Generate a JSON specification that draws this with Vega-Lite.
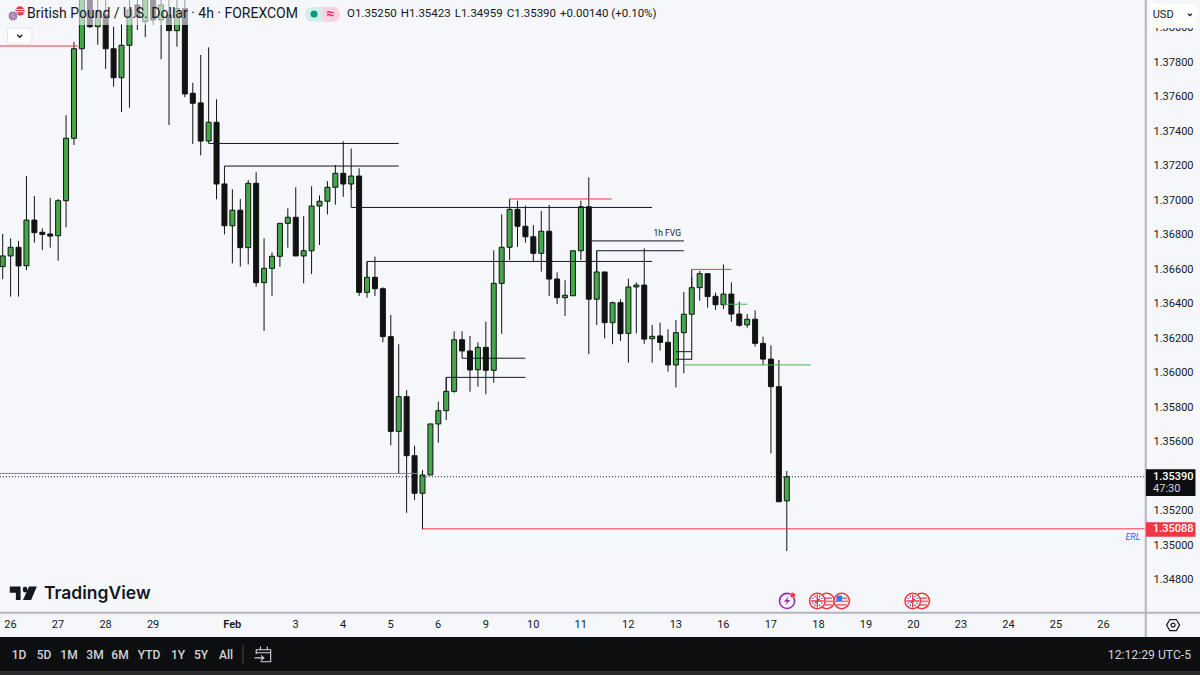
{"$schema":"https://vega.github.io/schema/vega-lite/v6.json","width":1200,"height":675,"padding":0,"autosize":{"type":"none"},"background":"#f5f7fb","config":{"view":{"stroke":null},"text":{"font":"Roboto"}},
"datasets":{
"candles":[
{"i":0,"open":1.36608,"close":1.3667,"high":1.36797,"low":1.36536},
{"i":1,"open":1.3667,"close":1.3672,"high":1.36772,"low":1.36434},
{"i":2,"open":1.3672,"close":1.36612,"high":1.36757,"low":1.36434},
{"i":3,"open":1.36613,"close":1.36878,"high":1.37133,"low":1.36588},
{"i":4,"open":1.36878,"close":1.36805,"high":1.37017,"low":1.36747},
{"i":5,"open":1.36807,"close":1.36795,"high":1.3683,"low":1.36704},
{"i":6,"open":1.36797,"close":1.36785,"high":1.37006,"low":1.36718},
{"i":7,"open":1.36787,"close":1.3699,"high":1.37,"low":1.36642},
{"i":8,"open":1.3699,"close":1.37352,"high":1.37485,"low":1.36836},
{"i":9,"open":1.37352,"close":1.37871,"high":1.3791,"low":1.37313},
{"i":10,"open":1.37871,"close":1.38183,"high":1.3827,"low":1.37748},
{"i":11,"open":1.38183,"close":1.37999,"high":1.38241,"low":1.37991},
{"i":12,"open":1.37999,"close":1.38084,"high":1.38154,"low":1.37894},
{"i":13,"open":1.38067,"close":1.37871,"high":1.38171,"low":1.37754},
{"i":14,"open":1.37871,"close":1.37703,"high":1.37999,"low":1.37651},
{"i":15,"open":1.37703,"close":1.37891,"high":1.38014,"low":1.37504},
{"i":16,"open":1.37891,"close":1.38096,"high":1.38154,"low":1.37529},
{"i":17,"open":1.38125,"close":1.38055,"high":1.38183,"low":1.3798},
{"i":18,"open":1.38028,"close":1.38183,"high":1.38223,"low":1.37939},
{"i":19,"open":1.38183,"close":1.38038,"high":1.38223,"low":1.38009},
{"i":20,"open":1.38038,"close":1.38125,"high":1.38183,"low":1.3781},
{"i":21,"open":1.38067,"close":1.37976,"high":1.38154,"low":1.37429},
{"i":22,"open":1.37976,"close":1.38105,"high":1.38171,"low":1.37883},
{"i":23,"open":1.38105,"close":1.37609,"high":1.38154,"low":1.3759},
{"i":24,"open":1.37613,"close":1.37555,"high":1.37674,"low":1.37319},
{"i":25,"open":1.37557,"close":1.37336,"high":1.37835,"low":1.37253},
{"i":26,"open":1.37336,"close":1.37445,"high":1.37879,"low":1.37323},
{"i":27,"open":1.37445,"close":1.37087,"high":1.37578,"low":1.36998},
{"i":28,"open":1.37087,"close":1.36845,"high":1.37087,"low":1.36795},
{"i":29,"open":1.36845,"close":1.36935,"high":1.37056,"low":1.36627},
{"i":30,"open":1.36935,"close":1.36718,"high":1.37,"low":1.36608},
{"i":31,"open":1.36718,"close":1.37091,"high":1.3711,"low":1.36621},
{"i":32,"open":1.37091,"close":1.36515,"high":1.37155,"low":1.36492},
{"i":33,"open":1.36515,"close":1.36598,"high":1.36772,"low":1.36235},
{"i":34,"open":1.36598,"close":1.36668,"high":1.36691,"low":1.36439},
{"i":35,"open":1.36668,"close":1.36859,"high":1.36859,"low":1.36608},
{"i":36,"open":1.36859,"close":1.36894,"high":1.36946,"low":1.36718},
{"i":37,"open":1.36894,"close":1.3667,"high":1.37068,"low":1.3667},
{"i":38,"open":1.3667,"close":1.367,"high":1.36901,"low":1.36511},
{"i":39,"open":1.367,"close":1.36959,"high":1.37074,"low":1.36565},
{"i":40,"open":1.36959,"close":1.36987,"high":1.37021,"low":1.36733},
{"i":41,"open":1.36987,"close":1.37068,"high":1.37104,"low":1.36911},
{"i":42,"open":1.37068,"close":1.37149,"high":1.37197,"low":1.36967},
{"i":43,"open":1.37149,"close":1.37087,"high":1.37334,"low":1.37013},
{"i":44,"open":1.37087,"close":1.37133,"high":1.37292,"low":1.37052},
{"i":45,"open":1.37133,"close":1.36459,"high":1.37178,"low":1.36438},
{"i":46,"open":1.36459,"close":1.36546,"high":1.36637,"low":1.36428},
{"i":47,"open":1.36546,"close":1.3648,"high":1.36666,"low":1.36438},
{"i":48,"open":1.3648,"close":1.36202,"high":1.36488,"low":1.36169},
{"i":49,"open":1.36202,"close":1.35653,"high":1.36328,"low":1.35572},
{"i":50,"open":1.35653,"close":1.35854,"high":1.36158,"low":1.3541},
{"i":51,"open":1.35854,"close":1.35512,"high":1.35893,"low":1.35181},
{"i":52,"open":1.35512,"close":1.35294,"high":1.3557,"low":1.35255},
{"i":53,"open":1.35294,"close":1.354,"high":1.35429,"low":1.35085},
{"i":54,"open":1.354,"close":1.35696,"high":1.35696,"low":1.354},
{"i":55,"open":1.35696,"close":1.35773,"high":1.35825,"low":1.35587},
{"i":56,"open":1.35773,"close":1.35885,"high":1.35968,"low":1.35719},
{"i":57,"open":1.35885,"close":1.36184,"high":1.36233,"low":1.35877},
{"i":58,"open":1.36184,"close":1.36119,"high":1.36233,"low":1.36077},
{"i":59,"open":1.36119,"close":1.36009,"high":1.36206,"low":1.35883},
{"i":60,"open":1.3601,"close":1.3614,"high":1.36169,"low":1.35912},
{"i":61,"open":1.3614,"close":1.36007,"high":1.36289,"low":1.35868},
{"i":62,"open":1.36007,"close":1.36511,"high":1.36703,"low":1.35935},
{"i":63,"open":1.36511,"close":1.3672,"high":1.36911,"low":1.36219},
{"i":64,"open":1.3672,"close":1.3694,"high":1.37,"low":1.36646},
{"i":65,"open":1.3694,"close":1.36842,"high":1.3699,"low":1.36723},
{"i":66,"open":1.36842,"close":1.36781,"high":1.36961,"low":1.36747},
{"i":67,"open":1.36781,"close":1.36685,"high":1.36849,"low":1.36637},
{"i":68,"open":1.36685,"close":1.36813,"high":1.3693,"low":1.36579},
{"i":69,"open":1.36813,"close":1.36536,"high":1.36965,"low":1.36438},
{"i":70,"open":1.36536,"close":1.36428,"high":1.36575,"low":1.36391},
{"i":71,"open":1.36428,"close":1.36442,"high":1.36529,"low":1.36322},
{"i":72,"open":1.36439,"close":1.367,"high":1.367,"low":1.36439},
{"i":73,"open":1.367,"close":1.36955,"high":1.3699,"low":1.36646},
{"i":74,"open":1.36955,"close":1.36419,"high":1.37126,"low":1.36101},
{"i":75,"open":1.36419,"close":1.36577,"high":1.367,"low":1.3627},
{"i":76,"open":1.36577,"close":1.36283,"high":1.36577,"low":1.36192},
{"i":77,"open":1.36283,"close":1.36399,"high":1.36405,"low":1.36158},
{"i":78,"open":1.36399,"close":1.36219,"high":1.36419,"low":1.36177},
{"i":79,"open":1.36221,"close":1.3649,"high":1.36538,"low":1.36051},
{"i":80,"open":1.3649,"close":1.36501,"high":1.36517,"low":1.36221},
{"i":81,"open":1.36501,"close":1.36188,"high":1.36714,"low":1.36161},
{"i":82,"open":1.3619,"close":1.36204,"high":1.3627,"low":1.36051},
{"i":83,"open":1.36206,"close":1.36169,"high":1.36283,"low":1.36121},
{"i":84,"open":1.36169,"close":1.36038,"high":1.36245,"low":1.35999},
{"i":85,"open":1.36038,"close":1.36225,"high":1.36299,"low":1.35908},
{"i":86,"open":1.36225,"close":1.36332,"high":1.36461,"low":1.3599},
{"i":87,"open":1.36332,"close":1.36486,"high":1.36548,"low":1.36067},
{"i":88,"open":1.36486,"close":1.36567,"high":1.36583,"low":1.3641},
{"i":89,"open":1.36567,"close":1.36434,"high":1.36567,"low":1.3637},
{"i":90,"open":1.36436,"close":1.36387,"high":1.36457,"low":1.36357},
{"i":91,"open":1.36387,"close":1.36449,"high":1.36621,"low":1.36362},
{"i":92,"open":1.36449,"close":1.36333,"high":1.36517,"low":1.36289},
{"i":93,"open":1.36333,"close":1.36268,"high":1.36405,"low":1.3626},
{"i":94,"open":1.3627,"close":1.36303,"high":1.36333,"low":1.36254},
{"i":95,"open":1.36303,"close":1.36163,"high":1.36355,"low":1.36144},
{"i":96,"open":1.36163,"close":1.36072,"high":1.36202,"low":1.36038},
{"i":97,"open":1.36072,"close":1.35912,"high":1.36151,"low":1.35526},
{"i":98,"open":1.35912,"close":1.35245,"high":1.36067,"low":1.35245},
{"i":99,"open":1.3525,"close":1.3539,"high":1.35423,"low":1.34959}],
"drawings":[
{"i":-0.35,"i2":9.5,"p":1.37887,"p2":1.37887,"kind":"red"},
{"i":26,"i2":50,"p":1.37322,"p2":1.37322,"kind":"line"},
{"i":28,"i2":50,"p":1.37191,"p2":1.37191,"kind":"line"},
{"i":28,"i2":28,"p":1.37191,"p2":1.37087,"kind":"line"},
{"i":44,"i2":82,"p":1.36951,"p2":1.36951,"kind":"line"},
{"i":44,"i2":44,"p":1.37087,"p2":1.36951,"kind":"line"},
{"i":64,"i2":76.9,"p":1.37,"p2":1.37,"kind":"red"},
{"i":46,"i2":82,"p":1.36638,"p2":1.36638,"kind":"line"},
{"i":46,"i2":46,"p":1.36638,"p2":1.36546,"kind":"line"},
{"i":74.4,"i2":86,"p":1.36757,"p2":1.36757,"kind":"line"},
{"i":75,"i2":86,"p":1.367,"p2":1.367,"kind":"line"},
{"i":75,"i2":75,"p":1.367,"p2":1.36577,"kind":"line"},
{"i":58,"i2":66,"p":1.36077,"p2":1.36077,"kind":"line"},
{"i":56,"i2":66,"p":1.35966,"p2":1.35966,"kind":"line"},
{"i":56,"i2":56,"p":1.35966,"p2":1.35885,"kind":"line"},
{"i":-0.35,"i2":52.5,"p":1.35409,"p2":1.35409,"kind":"green"},
{"i":53,"i2":144.2,"p":1.35088,"p2":1.35088,"kind":"red"},
{"i":86,"i2":102,"p":1.36038,"p2":1.36038,"kind":"green"},
{"i":87,"i2":92,"p":1.36592,"p2":1.36592,"kind":"red"},
{"i":87,"i2":87,"p":1.36592,"p2":1.36486,"kind":"line"},
{"i":91,"i2":94,"p":1.3639,"p2":1.3639,"kind":"green"},
{"i":85,"i2":87,"p":1.36115,"p2":1.36115,"kind":"line"},
{"i":85,"i2":87,"p":1.36071,"p2":1.36071,"kind":"line"}],
"usFlags":[{"i":104.04,"p":1.3467},{"i":105.93,"p":1.3467},{"i":116.04,"p":1.3467}],
"ukFlags":[{"i":102.85,"p":1.3467},{"i":114.9,"p":1.3467}],
"ohlc":[{"i":43.47,"p":1.38072,"label":"O1.35250"},{"i":50.25,"p":1.38072,"label":"H1.35423"},{"i":57.07,"p":1.38072,"label":"L1.34959"},{"i":63.64,"p":1.38072,"label":"C1.35390"},{"i":70.37,"p":1.38072,"label":"+0.00140 (+0.10%)"}],
"toolbar":[{"i":2.06,"p":1.343565,"label":"1D"},{"i":5.21,"p":1.343565,"label":"5D"},{"i":8.37,"p":1.343565,"label":"1M"},{"i":11.65,"p":1.343565,"label":"3M"},{"i":14.81,"p":1.343565,"label":"6M"},{"i":18.47,"p":1.343565,"label":"YTD"},{"i":22.13,"p":1.343565,"label":"1Y"},{"i":25.04,"p":1.343565,"label":"5Y"},{"i":28.2,"p":1.343565,"label":"All"}]
},
"layer":[
{"data":{"name":"candles"},"mark":{"type":"rule","stroke":"#121212","strokeWidth":1},
"encoding":{"x":{"field":"i","type":"quantitative","title":null,"scale":{"domain":[-0.3409,151.17],"nice":false,"zero":false,"padding":0},
"axis":{"orient":"bottom","offset":-50.5,"grid":false,"domain":false,"ticks":false,"title":null,"labelPadding":0,"labelOffset":-0.6,"labelBaseline":"middle","labelFont":"Roboto","labelFontSize":11,"labelColor":"#131722","labelOverlap":false,"labelFlush":false,"labelFontWeight":{"expr":"datum.value==29?600:400"},
"values":[1,7,13,19,29,37,43,49,55,61,67,73,79,85,91,97,103,109,115,121,127,133,139],
"labelExpr":"{'1':'26','7':'27','13':'28','19':'29','29':'Feb','37':'3','43':'4','49':'5','55':'6','61':'9','67':'10','73':'11','79':'12','85':'13','91':'16','97':'17','103':'18','109':'19','115':'20','121':'23','127':'24','133':'25','139':'26'}[''+datum.value]"}},
"y":{"field":"high","type":"quantitative","title":null,"scale":{"domain":[1.3424058,1.3815362],"nice":false,"zero":false},
"axis":{"orient":"right","offset":-47,"grid":false,"domain":false,"ticks":false,"title":null,"labelPadding":0,"labelOffset":1.4,"labelAlign":"left","labelFont":"Roboto","labelFontSize":11,"labelColor":"#131722","labelOverlap":false,"format":".5f",
"values":[1.348,1.35,1.352,1.354,1.356,1.358,1.36,1.362,1.364,1.366,1.368,1.37,1.372,1.374,1.376,1.378,1.38]}},
"y2":{"field":"low"}}},
{"data":{"name":"candles"},"mark":{"type":"bar","orient":"vertical","size":5,"stroke":"#121212","strokeWidth":1},
"encoding":{"x":{"field":"i","type":"quantitative"},"y":{"field":"open","type":"quantitative"},"y2":{"field":"close"},
"color":{"condition":{"test":"datum.close >= datum.open","value":"#43a948"},"value":"#121212"}}},
{"data":{"name":"drawings"},"mark":{"type":"rule","strokeWidth":1},
"encoding":{"x":{"field":"i","type":"quantitative"},"x2":{"field":"i2"},"y":{"field":"p","type":"quantitative"},"y2":{"field":"p2"},
"color":{"field":"kind","type":"nominal","legend":null,"scale":{"domain":["line","red","green"],"range":["#131722","#f23645","#4caf50"]}}}},
{"data":{"values":[{"i":-0.35,"i2":144.2,"p":1.3539}]},"mark":{"type":"rule","stroke":"#131722","strokeWidth":1,"strokeDash":[1,2]},
"encoding":{"x":{"field":"i","type":"quantitative"},"x2":{"field":"i2"},"y":{"field":"p","type":"quantitative"}}},
{"data":{"values":[{"i":83.9,"p":1.36803,"label":"1h FVG"}]},"mark":{"type":"text","fontSize":8.5,"color":"#131722","align":"center","baseline":"middle"},
"encoding":{"x":{"field":"i","type":"quantitative"},"y":{"field":"p","type":"quantitative"},"text":{"field":"label"}}},
{"data":{"values":[{"i":142.7,"p":1.35042,"label":"ERL"}]},"mark":{"type":"text","fontSize":9,"fontStyle":"italic","color":"#2962ff","align":"center","baseline":"middle"},
"encoding":{"x":{"field":"i","type":"quantitative"},"y":{"field":"p","type":"quantitative"},"text":{"field":"label"}}},
{"data":{"values":[{"i":2.4,"i2":82.3,"p":1.3817,"p2":1.38009}]},"mark":{"type":"rect","color":"#f5f7fb","opacity":0.6},
"encoding":{"x":{"field":"i","type":"quantitative"},"x2":{"field":"i2"},"y":{"field":"p","type":"quantitative"},"y2":{"field":"p2"}}},
{"data":{"values":[{"i":-0.35,"i2":151.2,"p":1.34461,"p2":1.34264}]},"mark":{"type":"rect","color":"#0d0e10"},
"encoding":{"x":{"field":"i","type":"quantitative"},"x2":{"field":"i2"},"y":{"field":"p","type":"quantitative"},"y2":{"field":"p2"}}},
{"data":{"values":[{"i":-0.35,"i2":151.2,"p":1.34264,"p2":1.3424}]},"mark":{"type":"rect","color":"#2a2b2d"},
"encoding":{"x":{"field":"i","type":"quantitative"},"x2":{"field":"i2"},"y":{"field":"p","type":"quantitative"},"y2":{"field":"p2"}}},
{"data":{"values":[{"i":144.32,"p":1.3817,"p2":1.34461}]},"mark":{"type":"rule","stroke":"#b2b5be","strokeWidth":2},
"encoding":{"x":{"field":"i","type":"quantitative"},"y":{"field":"p","type":"quantitative"},"y2":{"field":"p2"}}},
{"data":{"values":[{"i":-0.35,"i2":151.2,"p":1.34602}]},"mark":{"type":"rule","stroke":"#b2b5be","strokeWidth":2},
"encoding":{"x":{"field":"i","type":"quantitative"},"x2":{"field":"i2"},"y":{"field":"p","type":"quantitative"}}},
{"data":{"values":[{"i":144.35,"i2":150.6,"p":1.35433,"p2":1.35278}]},"mark":{"type":"rect","color":"#0d0e10"},
"encoding":{"x":{"field":"i","type":"quantitative"},"x2":{"field":"i2"},"y":{"field":"p","type":"quantitative"},"y2":{"field":"p2"}}},
{"data":{"values":[{"i":144.35,"i2":150.6,"p":1.35126,"p2":1.35042}]},"mark":{"type":"rect","color":"#f23645"},
"encoding":{"x":{"field":"i","type":"quantitative"},"x2":{"field":"i2"},"y":{"field":"p","type":"quantitative"},"y2":{"field":"p2"}}},
{"data":{"values":[{"i":145.24,"p":1.3539,"label":"1.35390"},{"i":145.24,"p":1.35088,"label":"1.35088"}]},"mark":{"type":"text","fontSize":11,"fontWeight":500,"color":"#ffffff","align":"left","baseline":"middle"},
"encoding":{"x":{"field":"i","type":"quantitative"},"y":{"field":"p","type":"quantitative"},"text":{"field":"label"}}},
{"data":{"values":[{"i":145.24,"p":1.35319,"label":"47:30"}]},"mark":{"type":"text","fontSize":11,"color":"#d1d4dc","align":"left","baseline":"middle"},
"encoding":{"x":{"field":"i","type":"quantitative"},"y":{"field":"p","type":"quantitative"},"text":{"field":"label"}}},
{"data":{"values":[{"i":144.86,"i2":150.8,"p":1.3813,"p2":1.37991}]},"mark":{"type":"rect","color":"#ffffff","cornerRadius":3},
"encoding":{"x":{"field":"i","type":"quantitative"},"x2":{"field":"i2"},"y":{"field":"p","type":"quantitative"},"y2":{"field":"p2"}}},
{"data":{"values":[{"i":145.2,"p":1.38068,"label":"USD"}]},"mark":{"type":"text","fontSize":11,"color":"#131722","align":"left","baseline":"middle"},
"encoding":{"x":{"field":"i","type":"quantitative"},"y":{"field":"p","type":"quantitative"},"text":{"field":"label"}}},
{"data":{"values":[{"i":149.9,"p":1.38068}]},"mark":{"type":"point","shape":"M-.5,-.25 L0,.25 L.5,-.25","size":64,"filled":false,"fill":null,"stroke":"#131722","strokeWidth":1.2,"opacity":1},
"encoding":{"x":{"field":"i","type":"quantitative"},"y":{"field":"p","type":"quantitative"}}},
{"data":{"values":[{"i":0.6,"i2":3.7,"p":1.37991,"p2":1.37899}]},"mark":{"type":"rect","color":"#ffffff","stroke":"#e0e3eb","strokeWidth":1,"cornerRadius":3},
"encoding":{"x":{"field":"i","type":"quantitative"},"x2":{"field":"i2"},"y":{"field":"p","type":"quantitative"},"y2":{"field":"p2"}}},
{"data":{"values":[{"i":2.15,"p":1.37945}]},"mark":{"type":"point","shape":"M-.5,-.25 L0,.25 L.5,-.25","size":100,"filled":false,"fill":null,"stroke":"#131722","strokeWidth":1.3,"opacity":1},
"encoding":{"x":{"field":"i","type":"quantitative"},"y":{"field":"p","type":"quantitative"}}},
{"data":{"values":[{"i":3.07,"p":1.38072,"label":"British Pound / U.S. Dollar · 4h · FOREXCOM"}]},"mark":{"type":"text","fontSize":14,"color":"#131722","align":"left","baseline":"middle"},
"encoding":{"x":{"field":"i","type":"quantitative"},"y":{"field":"p","type":"quantitative"},"text":{"field":"label"}}},
{"data":{"values":[{"i":38.17,"i2":40.35,"p":1.38113,"p2":1.38028}]},"mark":{"type":"rect","color":"#d3ede8","cornerRadiusTopLeft":7,"cornerRadiusBottomLeft":7},
"encoding":{"x":{"field":"i","type":"quantitative"},"x2":{"field":"i2"},"y":{"field":"p","type":"quantitative"},"y2":{"field":"p2"}}},
{"data":{"values":[{"i":40.35,"i2":42.59,"p":1.38113,"p2":1.38028}]},"mark":{"type":"rect","color":"#f7d3e1","cornerRadiusTopRight":7,"cornerRadiusBottomRight":7},
"encoding":{"x":{"field":"i","type":"quantitative"},"x2":{"field":"i2"},"y":{"field":"p","type":"quantitative"},"y2":{"field":"p2"}}},
{"data":{"values":[{"i":39.31,"p":1.38072}]},"mark":{"type":"circle","color":"#089981","size":50,"opacity":1},
"encoding":{"x":{"field":"i","type":"quantitative"},"y":{"field":"p","type":"quantitative"}}},
{"data":{"values":[{"i":41.39,"p":1.38072,"label":"≈"}]},"mark":{"type":"text","fontSize":14,"fontWeight":700,"color":"#e91e63","align":"center","baseline":"middle"},
"encoding":{"x":{"field":"i","type":"quantitative"},"y":{"field":"p","type":"quantitative"},"text":{"field":"label"}}},
{"data":{"name":"ohlc"},"mark":{"type":"text","fontSize":11.5,"color":"#131722","align":"left","baseline":"middle"},
"encoding":{"x":{"field":"i","type":"quantitative"},"y":{"field":"p","type":"quantitative"},"text":{"field":"label"}}},
{"data":{"values":[{"i":2.18,"p":1.3809}]},"mark":{"type":"circle","color":"#f23645","size":85,"opacity":1},
"encoding":{"x":{"field":"i","type":"quantitative"},"y":{"field":"p","type":"quantitative"}}},
{"data":{"values":[{"i":2.18,"p":1.3809}]},"mark":{"type":"point","filled":true,"opacity":1,"color":"#ffffff","size":100,"shape":"M-.8,-.4 H.8 V-.2 H-.8Z M-.9,.05 H.9 V.25 H-.9Z"},
"encoding":{"x":{"field":"i","type":"quantitative"},"y":{"field":"p","type":"quantitative"}}},
{"data":{"values":[{"i":1.3,"p":1.38061}]},"mark":{"type":"circle","color":"#3d5fd0","size":90,"stroke":"#f5f7fb","strokeWidth":1,"opacity":1},
"encoding":{"x":{"field":"i","type":"quantitative"},"y":{"field":"p","type":"quantitative"}}},
{"data":{"values":[{"i":1.3,"p":1.38061}]},"mark":{"type":"point","filled":true,"opacity":1,"color":"#f29aa5","size":100,"shape":"M-.15,-.9 H.15 V-.15 H.9 V.15 H.15 V.9 H-.15 V.15 H-.9 V-.15 H-.15Z M-.7,-.55 L-.55,-.7 L.7,.55 L.55,.7Z M.7,-.55 L.55,-.7 L-.7,.55 L-.55,.7Z"},
"encoding":{"x":{"field":"i","type":"quantitative"},"y":{"field":"p","type":"quantitative"}}},
{"data":{"values":[{"i":2.6,"p":1.34714}]},"mark":{"type":"point","filled":true,"opacity":1,"color":"#131722","size":729,"shape":"M-1,-.5 H-.2 V.5 H-.55 V-.05 H-1Z M-.02,-.28 A.16,.16 0 1 1 .28,-.28 A.16,.16 0 1 1 -.02,-.28Z M.42,-.5 H1 L.58,.5 H-.02Z"},
"encoding":{"x":{"field":"i","type":"quantitative"},"y":{"field":"p","type":"quantitative"}}},
{"data":{"values":[{"i":5.21,"p":1.3471,"label":"TradingView"}]},"mark":{"type":"text","font":"Inter","fontSize":17.5,"fontWeight":600,"color":"#131722","align":"left","baseline":"middle"},
"encoding":{"x":{"field":"i","type":"quantitative"},"y":{"field":"p","type":"quantitative"},"text":{"field":"label"}}},
{"data":{"values":[{"i":99.03,"p":1.3467}]},"mark":{"type":"circle","fill":null,"fillOpacity":0,"stroke":"#9c27b0","strokeWidth":1.6,"strokeOpacity":1,"size":230},
"encoding":{"x":{"field":"i","type":"quantitative"},"y":{"field":"p","type":"quantitative"}}},
{"data":{"values":[{"i":99.03,"p":1.3467}]},"mark":{"type":"point","filled":true,"opacity":1,"color":"#9c27b0","size":324,"shape":"M.2,-.55 L-.35,.1 H.02 L-.2,.55 L.35,-.1 H0 Z"},
"encoding":{"x":{"field":"i","type":"quantitative"},"y":{"field":"p","type":"quantitative"}}},
{"data":{"values":[{"i":99.75,"p":1.34703}]},"mark":{"type":"circle","color":"#f23645","size":30,"stroke":"#f5f7fb","strokeWidth":0.5,"opacity":1},
"encoding":{"x":{"field":"i","type":"quantitative"},"y":{"field":"p","type":"quantitative"}}},
{"data":{"name":"usFlags"},"mark":{"type":"circle","color":"#ffffff","stroke":"#f23645","strokeWidth":1.5,"size":240,"opacity":1},
"encoding":{"x":{"field":"i","type":"quantitative"},"y":{"field":"p","type":"quantitative"}}},
{"data":{"name":"usFlags"},"mark":{"type":"point","filled":true,"opacity":1,"color":"#f4717c","size":324,"shape":"M-.6,-.4 H.6 V-.2 H-.6Z M-.75,-.05 H.75 V.15 H-.75Z M-.6,.35 H.6 V.55 H-.6Z"},
"encoding":{"x":{"field":"i","type":"quantitative"},"y":{"field":"p","type":"quantitative"}}},
{"data":{"values":[{"i":105.93,"p":1.3467}]},"mark":{"type":"point","filled":true,"opacity":1,"color":"#2f7de1","size":324,"shape":"M-.55,-.6 H.05 V0 H-.6Z"},
"encoding":{"x":{"field":"i","type":"quantitative"},"y":{"field":"p","type":"quantitative"}}},
{"data":{"name":"ukFlags"},"mark":{"type":"circle","color":"#ffffff","stroke":"#f23645","strokeWidth":1.5,"size":240,"opacity":1},
"encoding":{"x":{"field":"i","type":"quantitative"},"y":{"field":"p","type":"quantitative"}}},
{"data":{"name":"ukFlags"},"mark":{"type":"circle","color":"#3d5fd0","size":135,"opacity":1},
"encoding":{"x":{"field":"i","type":"quantitative"},"y":{"field":"p","type":"quantitative"}}},
{"data":{"name":"ukFlags"},"mark":{"type":"point","filled":true,"opacity":1,"color":"#ffffff","size":324,"shape":"M-.2,-.72 H.2 V-.2 H.72 V.2 H.2 V.72 H-.2 V.2 H-.72 V-.2 H-.2Z M-.55,-.42 L-.42,-.55 L.55,.42 L.42,.55Z M.55,-.42 L.42,-.55 L-.55,.42 L-.42,.55Z"},
"encoding":{"x":{"field":"i","type":"quantitative"},"y":{"field":"p","type":"quantitative"}}},
{"data":{"name":"ukFlags"},"mark":{"type":"point","filled":true,"opacity":1,"color":"#f23645","size":324,"shape":"M-.08,-.72 H.08 V-.08 H.72 V.08 H.08 V.72 H-.08 V.08 H-.72 V-.08 H-.08Z"},
"encoding":{"x":{"field":"i","type":"quantitative"},"y":{"field":"p","type":"quantitative"}}},
{"data":{"values":[{"i":147.77,"p":1.3453}]},"mark":{"type":"point","filled":false,"fill":null,"opacity":1,"stroke":"#131722","strokeWidth":1.2,"size":169,"shape":"M-.5,-.85 L.5,-.85 L1,0 L.5,.85 L-.5,.85 L-1,0Z"},
"encoding":{"x":{"field":"i","type":"quantitative"},"y":{"field":"p","type":"quantitative"}}},
{"data":{"values":[{"i":147.77,"p":1.3453}]},"mark":{"type":"circle","fillOpacity":0,"stroke":"#131722","strokeWidth":1.2,"strokeOpacity":1,"size":16},
"encoding":{"x":{"field":"i","type":"quantitative"},"y":{"field":"p","type":"quantitative"}}},
{"data":{"name":"toolbar"},"mark":{"type":"text","fontSize":12,"fontWeight":500,"color":"#d1d4dc","align":"center","baseline":"middle"},
"encoding":{"x":{"field":"i","type":"quantitative"},"y":{"field":"p","type":"quantitative"},"text":{"field":"label"}}},
{"data":{"values":[{"i":30.34,"p":1.34414,"p2":1.34304}]},"mark":{"type":"rule","stroke":"#434651","strokeWidth":1},
"encoding":{"x":{"field":"i","type":"quantitative"},"y":{"field":"p","type":"quantitative"},"y2":{"field":"p2"}}},
{"data":{"values":[{"i":32.87,"p":1.34362}]},"mark":{"type":"point","filled":false,"fill":null,"opacity":1,"stroke":"#d1d4dc","strokeWidth":1.1,"size":289,"shape":"M-.8,0 V-.5 H.9 V.9 H-.3 M-.8,-.15 H.9 M-.3,-.9 V-.5 M.5,-.9 V-.5 M-1,.45 H.1 M-.25,.15 L.1,.45 L-.25,.75"},
"encoding":{"x":{"field":"i","type":"quantitative"},"y":{"field":"p","type":"quantitative"}}},
{"data":{"values":[{"i":150.04,"p":1.343565,"label":"12:12:29 UTC-5"}]},"mark":{"type":"text","fontSize":12.2,"color":"#d1d4dc","align":"right","baseline":"middle"},
"encoding":{"x":{"field":"i","type":"quantitative"},"y":{"field":"p","type":"quantitative"},"text":{"field":"label"}}}
]}
